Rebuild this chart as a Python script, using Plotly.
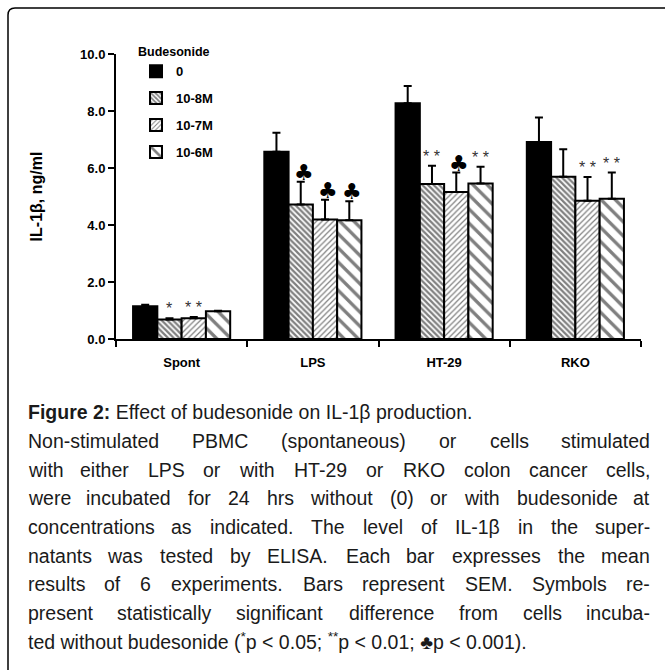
import plotly.graph_objects as go

# ---------------- data ----------------
categories = ["Spont", "LPS", "HT-29", "RKO"]
series_names = ["0", "10-8M", "10-7M", "10-6M"]

mean_0 = [1.15, 6.57, 8.27, 6.91]
mean_8 = [0.68, 4.72, 5.44, 5.69]
mean_7 = [0.73, 4.19, 5.16, 4.85]
mean_6 = [0.97, 4.17, 5.46, 4.92]

sem_0 = [0.05, 0.67, 0.61, 0.86]
sem_8 = [0.05, 0.80, 0.64, 0.97]
sem_7 = [0.04, 0.70, 0.68, 0.83]
sem_6 = [0.02, 0.66, 0.58, 0.92]

sig_0 = ["", "", "", ""]
sig_8 = ["*", "♣", "**", ""]
sig_7 = ["**", "♣", "♣", "**"]
sig_6 = ["", "♣", "**", "**"]

y_ticks = [0, 2, 4, 6, 8, 10]

caption_title = "<b>Figure 2:</b> Effect of budesonide on IL-1β production."
caption_lines = [
    "Non-stimulated PBMC (spontaneous) or cells stimulated",
    "with either LPS or with HT-29 or RKO colon cancer cells,",
    "were incubated for 24 hrs without (0) or with budesonide at",
    "concentrations as indicated. The level of IL-1β in the super-",
    "natants was tested by ELISA. Each bar expresses the mean",
    "results of 6 experiments. Bars represent SEM. Symbols re-",
    "present statistically significant difference from cells incuba-",
]
caption_last = "ted without budesonide (<sup>*</sup>p &lt; 0.05; <sup>**</sup>p &lt; 0.01; ♣p &lt; 0.001)."

# ---------------- layout geometry ----------------
W, H = 665, 670
ML, MR, MT, MB = 116, 24, 54, 330.5
PW = W - ML - MR
PH = H - MT - MB
PLOT_BOTTOM = H - MB


def px(x):
    return (x - ML) / PW


def py(y):
    return (PLOT_BOTTOM - y) / PH


BOLD = "Liberation Sans, Arial, sans-serif"
BARGAP = 0.26

means = [mean_0, mean_8, mean_7, mean_6]
sems = [sem_0, sem_8, sem_7, sem_6]
sigs = [sig_0, sig_8, sig_7, sig_6]
patterns = [
    None,
    dict(shape="\\", size=4, solidity=0.55, fgcolor="black", bgcolor="white"),
    dict(shape="/", size=4, solidity=0.3, fgcolor="black", bgcolor="white"),
    dict(shape="\\", size=10, solidity=0.33, fgcolor="black", bgcolor="white"),
]

fig = go.Figure()
for i, name in enumerate(series_names):
    marker = dict(color="black" if i == 0 else "white", line=dict(color="black", width=2))
    if patterns[i] is not None:
        marker["pattern"] = patterns[i]
    fig.add_trace(go.Bar(
        x=categories, y=means[i], name=name, legendgroup=name,
        marker=marker,
        error_y=dict(type="data", array=sems[i], arrayminus=[0] * len(categories),
                     symmetric=False, color="black", thickness=2, width=4),
    ))

# significance annotations
cat_px = PW / len(categories)
bar_px = cat_px * (1 - BARGAP) / len(series_names)
for i in range(len(series_names)):
    off = (i - (len(series_names) - 1) / 2) * bar_px
    for j, c in enumerate(categories):
        s = sigs[i][j]
        if not s:
            continue
        top = means[i][j] + sems[i][j]
        if s == "♣":
            fig.add_annotation(x=c, y=top, text="♣", showarrow=False, xshift=off + 3,
                               yanchor="bottom", yshift=-5,
                               font=dict(family="DejaVu Sans", size=22, color="black"))
        else:
            fig.add_annotation(x=c, y=top, text=" ".join(s), showarrow=False, xshift=off,
                               yanchor="bottom", yshift=-1,
                               font=dict(family="Liberation Sans, Arial", size=16, color="#333"))

# ---------------- caption ----------------
CAP_FONT = "Liberation Sans, Arial, sans-serif"
CAP_SIZE = 19.5
AW = {' ': 278, '(': 333, ')': 333, '*': 389, ',': 278, '-': 333, '.': 278, ':': 278, ';': 278,
      '<': 584, 'β': 575}
for ch in "0123456789":
    AW[ch] = 556
AW.update(dict(zip("ABCDEFGHIJKLMNOPQRSTUVWXYZ",
                   [667, 667, 722, 722, 667, 611, 778, 722, 278, 500, 667, 556, 833, 722, 778, 667,
                    778, 722, 667, 611, 722, 667, 944, 667, 667, 611])))
AW.update(dict(zip("abcdefghijklmnopqrstuvwxyz",
                   [556, 556, 500, 556, 556, 278, 556, 556, 222, 222, 500, 222, 833, 556, 556, 556,
                    556, 333, 500, 278, 556, 500, 722, 500, 500, 500])))


def text_w(t):
    return sum(AW.get(ch, 556) for ch in t) / 1000 * CAP_SIZE


X0, X1 = 27, 651
Y_TITLE = 413
Y_FIRST = 442
LINE_H = 28.6
CAP_COLOR = "#1a1a1a"

fig.add_annotation(x=px(X0), y=py(Y_TITLE), xref="paper", yref="paper", text=caption_title,
                   showarrow=False, xanchor="left", yanchor="middle", borderpad=0,
                   font=dict(family=CAP_FONT, size=CAP_SIZE, color=CAP_COLOR))

for k, line in enumerate(caption_lines):
    words = line.split(" ")
    widths = [text_w(w) for w in words]
    gap = (X1 - X0 - sum(widths)) / (len(words) - 1)
    yy = py(Y_FIRST + k * LINE_H)
    xcur = X0
    for n, (w, wd) in enumerate(zip(words, widths)):
        if n == 0:
            xa, xpos = "left", X0
        elif n == len(words) - 1:
            xa, xpos = "right", X1
        else:
            xa, xpos = "center", xcur + wd / 2
        fig.add_annotation(x=px(xpos), y=yy, xref="paper", yref="paper", text=w,
                           showarrow=False, xanchor=xa, yanchor="middle", borderpad=0,
                           font=dict(family=CAP_FONT, size=CAP_SIZE, color=CAP_COLOR))
        xcur += wd + gap

fig.add_annotation(x=px(X0), y=py(Y_FIRST + len(caption_lines) * LINE_H), xref="paper",
                   yref="paper", text=caption_last, showarrow=False, xanchor="left",
                   yanchor="middle", borderpad=0,
                   font=dict(family=CAP_FONT, size=CAP_SIZE, color=CAP_COLOR))

# frame with rounded top-left corner
r = 7
fx, fy = 8, 8
path = (f"M {px(fx)},{py(H + 5)} L {px(fx)},{py(fy + r)} "
        f"Q {px(fx)},{py(fy)} {px(fx + r)},{py(fy)} L {px(W + 5)},{py(fy)}")
fig.add_shape(type="path", path=path, xref="paper", yref="paper",
              line=dict(color="black", width=1.5))

fig.update_layout(
    width=W, height=H,
    margin=dict(l=ML, r=MR, t=MT, b=MB, autoexpand=False),
    paper_bgcolor="white", plot_bgcolor="white",
    barmode="group", bargap=BARGAP, bargroupgap=0,
    font=dict(family=BOLD, color="black"),
    showlegend=True,
    legend=dict(
        x=px(136), y=py(40), xanchor="left", yanchor="top",
        title=dict(text="Budesonide", font=dict(family=BOLD, size=12.5, weight="bold", color="black")),
        font=dict(family=BOLD, size=13, weight="bold", color="black"),
        bgcolor="rgba(0,0,0,0)", traceorder="grouped", tracegroupgap=7,
    ),
    xaxis=dict(
        showline=True, linecolor="black", linewidth=2,
        ticks="outside", tickson="boundaries", ticklen=6, tickwidth=2, tickcolor="black",
        tickfont=dict(family=BOLD, size=13, weight="bold", color="black"),
        ticklabelstandoff=10, showgrid=False, zeroline=False,
    ),
    yaxis=dict(
        range=[0, 10], tickvals=y_ticks, tickformat=".1f",
        showline=True, linecolor="black", linewidth=2,
        ticks="outside", ticklen=6, tickwidth=2, tickcolor="black",
        tickfont=dict(family=BOLD, size=13, weight="bold", color="black"),
        showgrid=False, zeroline=False,
        title=dict(text="IL-1β, ng/ml", standoff=33,
                   font=dict(family=BOLD, size=16, weight="bold", color="black")),
    ),
)

fig.write_html("out.html", config={"displayModeBar": False},
               post_script="document.body.style.margin='0';document.body.style.overflow='hidden';")
